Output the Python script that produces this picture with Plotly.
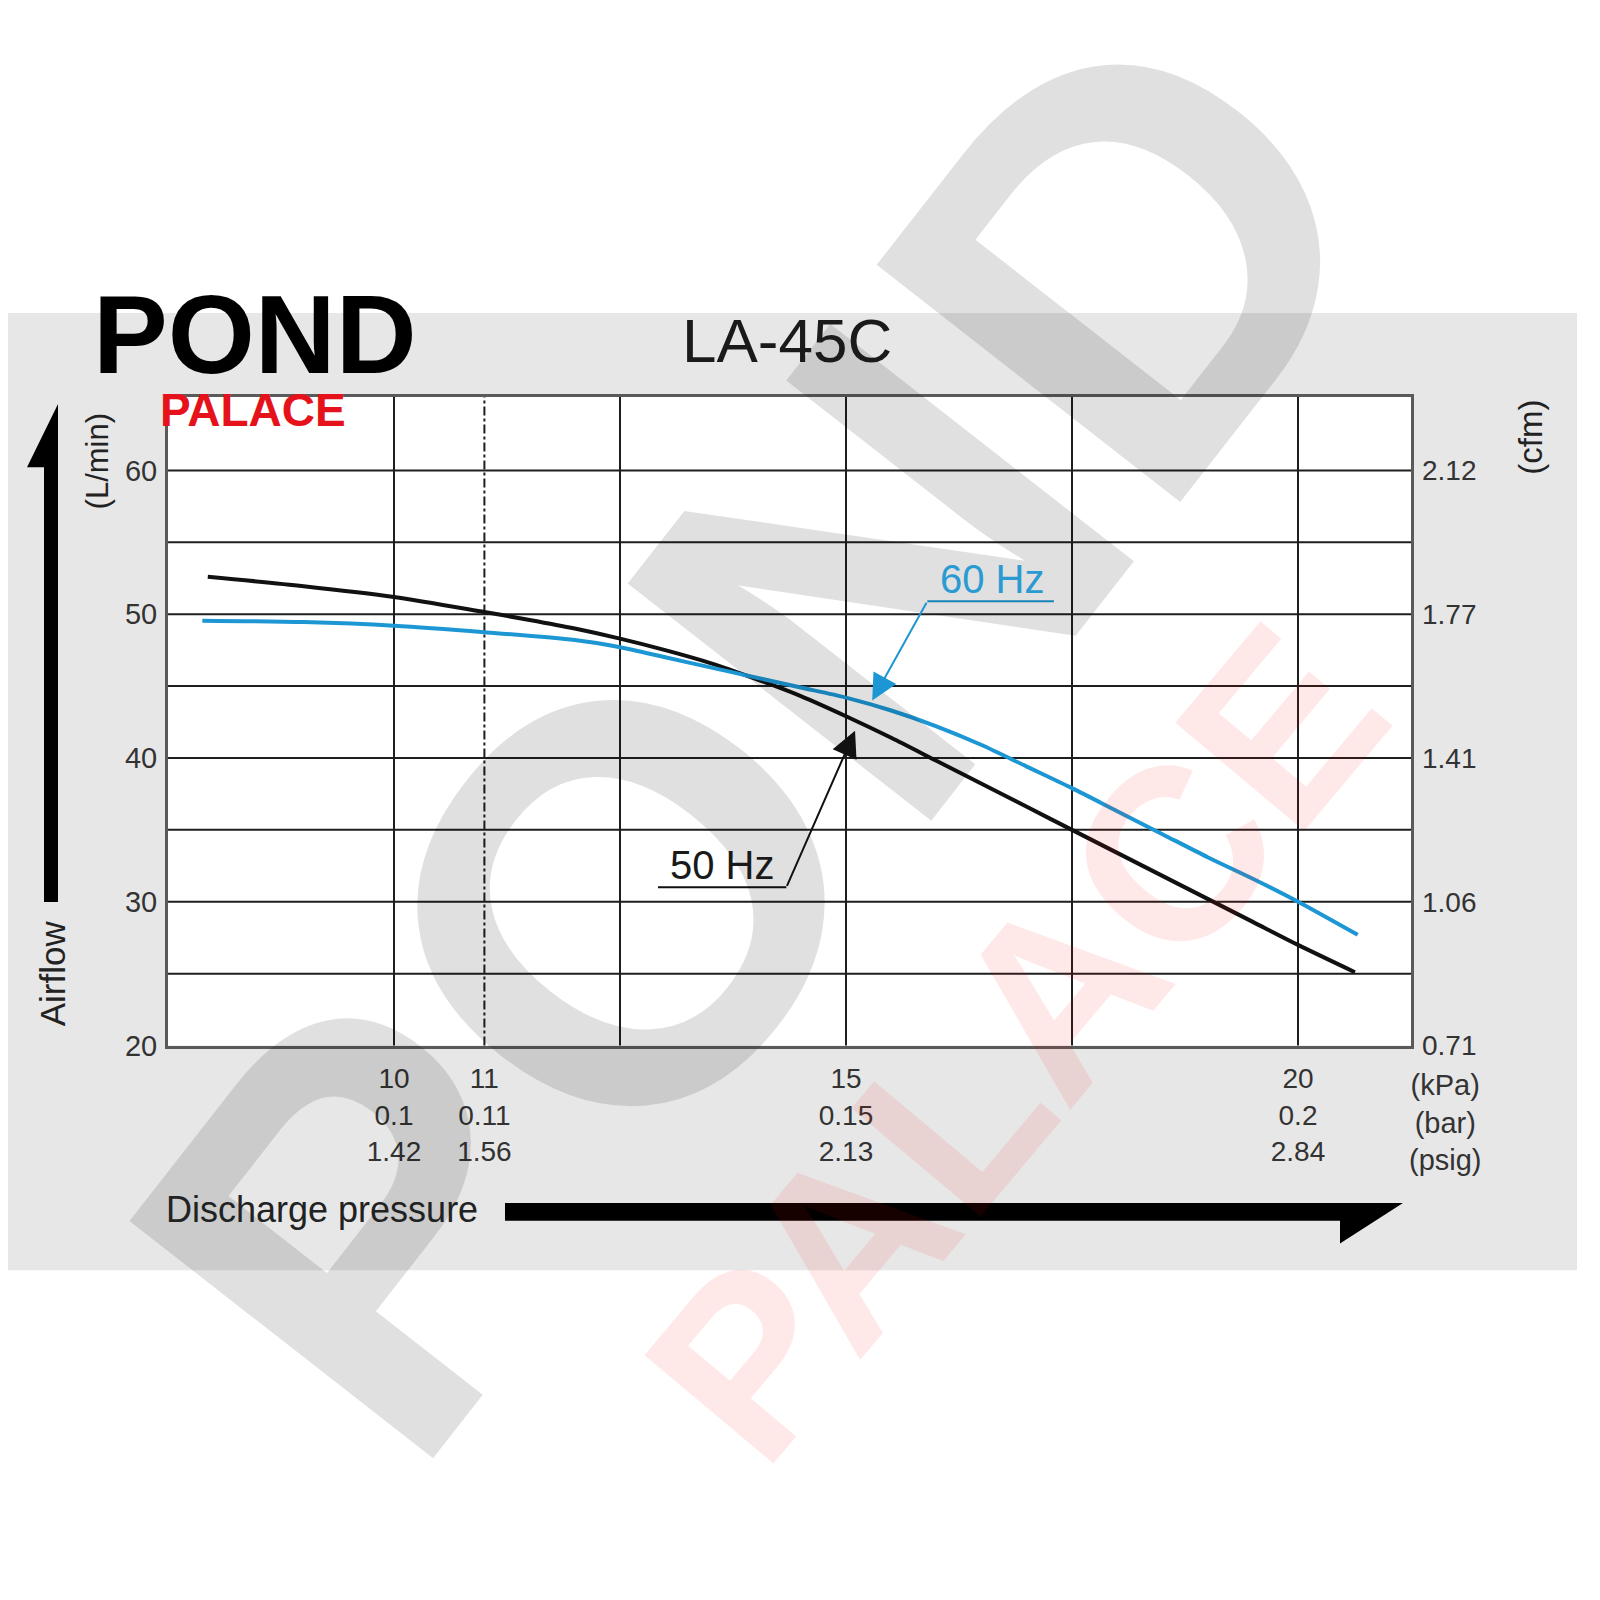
import plotly.graph_objects as go

# ---------------- data ----------------
pressure_50 = [7.94, 9, 10, 11, 11.5, 12, 12.5, 13, 13.5, 14, 14.5, 15, 15.5, 16, 16.5, 17, 17.5, 18, 18.5, 19, 19.5, 20, 20.63]
airflow_50 = [52.6, 51.95, 51.2, 50.15, 49.6, 49.0, 48.3, 47.5, 46.6, 45.5, 44.3, 42.9, 41.4, 39.8, 38.2, 36.6, 35.0, 33.4, 31.8, 30.2, 28.6, 27.0, 25.1]

pressure_60 = [7.88, 9, 10, 11, 12, 12.5, 13, 13.5, 14, 14.5, 15, 15.5, 16, 16.5, 17, 17.5, 18, 18.5, 19, 19.5, 20, 20.66]
airflow_60 = [49.55, 49.45, 49.2, 48.75, 48.2, 47.7, 47.0, 46.3, 45.6, 44.9, 44.2, 43.3, 42.2, 40.9, 39.4, 37.9, 36.3, 34.7, 33.1, 31.6, 30.0, 27.7]

x_tick_vals = [10, 11, 15, 20]
x_tick_text = ["10<br>0.1<br>1.42", "11<br>0.11<br>1.56", "15<br>0.15<br>2.13", "20<br>0.2<br>2.84"]
x_grid = [10, 12.5, 15, 17.5, 20]
x_dashdot = [11]
y_grid = [25, 30, 35, 40, 45, 50, 55, 60]
y_tick_vals = [20, 30, 40, 50, 60]
y_tick_text = ["20", "30", "40", "50", "60"]
cfm_tick_text = ["0.71", "1.06", "1.41", "1.77", "2.12"]

X_RANGE = [7.5, 21.25]
Y_RANGE = [20, 65.1]

BLUE = "#1d97d3"
FONT = "Liberation Sans"
W = H = 1600
OFF_X = 8  # page body margin (horizontal)
OFF_Y = 0


def px(x):
    return (x - OFF_X) / W


def py(y):
    return 1 - (y - OFF_Y) / H


fig = go.Figure()
fig.add_trace(go.Scatter(x=pressure_50, y=airflow_50, mode="lines", name="50 Hz",
                         line=dict(color="#111111", width=4, shape="spline", smoothing=0.8),
                         hoverinfo="skip", showlegend=False))
fig.add_trace(go.Scatter(x=pressure_60, y=airflow_60, mode="lines", name="60 Hz",
                         line=dict(color=BLUE, width=4, shape="spline", smoothing=0.8),
                         hoverinfo="skip", showlegend=False))
# invisible trace so the cfm axis is drawn
fig.add_trace(go.Scatter(x=pressure_50, y=airflow_50, yaxis="y2", mode="lines",
                         line=dict(color="rgba(0,0,0,0)"), hoverinfo="skip", showlegend=False))

shapes = []
# gray panel
shapes.append(dict(type="rect", xref="paper", yref="paper", x0=px(8), x1=px(1577), y0=py(1275), y1=py(308),
                   fillcolor="#e7e7e7", line=dict(width=0), layer="below"))
# white plot area
shapes.append(dict(type="rect", xref="x domain", yref="y domain", x0=0, x1=1, y0=0, y1=1,
                   fillcolor="white", line=dict(width=0), layer="below"))
# grid
for gx in x_grid:
    shapes.append(dict(type="line", xref="x", yref="y domain", x0=gx, x1=gx, y0=0, y1=1,
                       line=dict(color="#1e1e1e", width=2), layer="below"))
for gx in x_dashdot:
    shapes.append(dict(type="line", xref="x", yref="y domain", x0=gx, x1=gx, y0=0, y1=1,
                       line=dict(color="#1e1e1e", width=2, dash="dashdot"), layer="below"))
for gy in y_grid:
    shapes.append(dict(type="line", xref="x domain", yref="y", x0=0, x1=1, y0=gy, y1=gy,
                       line=dict(color="#1e1e1e", width=2), layer="below"))

# up arrow (Airflow)
up = [(44, 903), (44, 464), (27, 464), (58, 400), (58, 903)]
shapes.append(dict(type="path", xref="paper", yref="paper",
                   path="M " + " L ".join(f"{px(a):.5f},{py(b):.5f}" for a, b in up) + " Z",
                   fillcolor="#000000", line=dict(width=0)))
# right arrow (Discharge pressure)
rt = [(505, 1207), (1403, 1207), (1340, 1248), (1340, 1225), (505, 1225)]
shapes.append(dict(type="path", xref="paper", yref="paper",
                   path="M " + " L ".join(f"{px(a):.5f},{py(b):.5f}" for a, b in rt) + " Z",
                   fillcolor="#000000", line=dict(width=0)))

# callout underlines
shapes.append(dict(type="line", xref="x", yref="y", x0=15.90, x1=17.30, y0=50.9, y1=50.9,
                   line=dict(color=BLUE, width=2)))
shapes.append(dict(type="line", xref="x", yref="y", x0=12.92, x1=14.34, y0=31.0, y1=31.0,
                   line=dict(color="#111111", width=2)))


def ann(text, x, y, size, color, angle=0, xa="center", ya="middle", bold=False, **kw):
    return dict(text=f"<b>{text}</b>" if bold else text, xref="paper", yref="paper", x=px(x), y=py(y),
                xanchor=xa, yanchor=ya, showarrow=False, textangle=angle,
                font=dict(family=FONT, size=size, color=color), **kw)


annotations = []
# watermark
annotations.append(ann("POND", 755, 730, 560, "rgba(0,0,0,0.12)", angle=-52, bold=True))
annotations.append(ann("PALACE", 1015, 1045, 245, "rgba(255,0,0,0.09)", angle=-50, bold=True))
# logo
annotations.append(ann("POND", 255, 330, 112, "#000000", bold=True))
annotations.append(ann("PALACE", 253, 406, 46, "#e5121b", bold=True))
# title
annotations.append(ann("LA-45C", 787, 336, 62, "#1a1a1a"))
# axis titles
annotations.append(ann("(L/min)", 97, 458, 31, "#222222", angle=-90))
annotations.append(ann("Airflow", 52, 975, 35, "#222222", angle=-90))
annotations.append(ann("(cfm)", 1531, 434, 33, "#222222", angle=-90))
annotations.append(ann("(kPa)<br>(bar)<br>(psig)", 1445, 1070, 29, "#333333", ya="top"))
annotations.append(ann("Discharge pressure", 164, 1214, 36, "#222222", xa="left"))
# callouts
annotations.append(dict(text="60 Hz", xref="x", yref="y", x=16.62, y=52.45, showarrow=False,
                        xanchor="center", yanchor="middle",
                        font=dict(family=FONT, size=40, color="#2a9ad2")))
annotations.append(dict(text="", xref="x", yref="y", x=15.29, y=44.0, axref="x", ayref="y",
                        ax=15.90, ay=50.9, showarrow=True, arrowhead=2, arrowsize=2.6, arrowwidth=2,
                        arrowcolor=BLUE, standoff=0))
annotations.append(dict(text="50 Hz", xref="x", yref="y", x=13.63, y=32.55, showarrow=False,
                        xanchor="center", yanchor="middle",
                        font=dict(family=FONT, size=40, color="#1a1a1a")))
annotations.append(dict(text="", xref="x", yref="y", x=15.10, y=41.9, axref="x", ayref="y",
                        ax=14.34, ay=31.0, showarrow=True, arrowhead=2, arrowsize=2.6, arrowwidth=2,
                        arrowcolor="#111111", standoff=0))

fig.update_layout(
    width=W, height=H,
    margin=dict(l=0, r=0, t=0, b=0),
    paper_bgcolor="white",
    plot_bgcolor="white",
    shapes=shapes,
    annotations=annotations,
    xaxis=dict(domain=[px(168), px(1411)], range=X_RANGE, tickvals=x_tick_vals, ticktext=x_tick_text,
               showgrid=False, zeroline=False, ticks="", ticklabelstandoff=6,
               showline=True, mirror=True, linecolor="#5a5a5a", linewidth=3,
               tickfont=dict(family=FONT, size=28, color="#333333"), fixedrange=True),
    yaxis=dict(domain=[py(1048), py(393)], range=Y_RANGE, tickvals=y_tick_vals, ticktext=y_tick_text,
               showgrid=False, zeroline=False, ticks="", ticklabelstandoff=2,
               showline=True, mirror=True, linecolor="#5a5a5a", linewidth=3,
               tickfont=dict(family=FONT, size=29, color="#333333"), fixedrange=True),
    yaxis2=dict(overlaying="y", side="right", anchor="x", range=Y_RANGE, tickvals=y_tick_vals,
                ticktext=cfm_tick_text, showgrid=False, zeroline=False, ticks="", ticklabelstandoff=10,
                showline=False, tickfont=dict(family=FONT, size=28, color="#333333"), fixedrange=True),
)

fig.write_html("out.html")
